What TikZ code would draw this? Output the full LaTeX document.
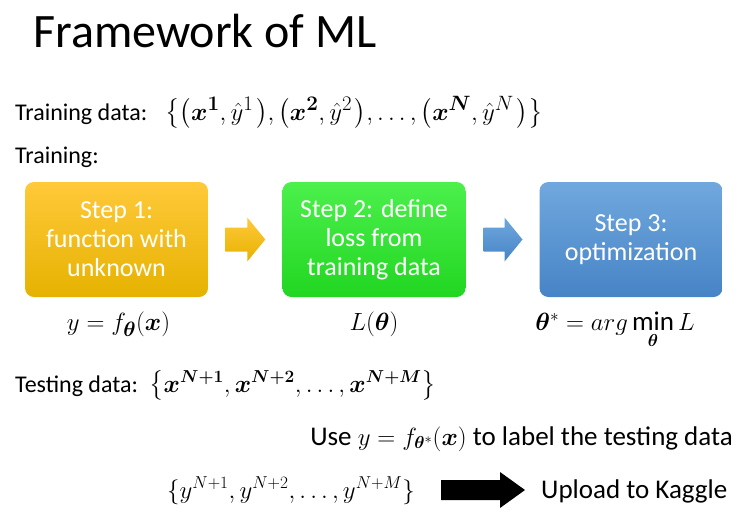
\documentclass[tikz,border=0pt]{standalone}
\usepackage{amsmath,bm}
\usepackage{fontspec}
\setmainfont{Carlito}
\usetikzlibrary{calc}
\definecolor{orangetop}{HTML}{FFC93A}
\definecolor{orangebot}{HTML}{E6B200}
\definecolor{greentop}{HTML}{4CF04C}
\definecolor{greenbot}{HTML}{22D622}
\definecolor{bluetop}{HTML}{70A8DE}
\definecolor{bluebot}{HTML}{4784C6}
\begin{document}
\begin{tikzpicture}[x=1pt,y=-1pt,
  stepbox/.style={rounded corners=9pt, minimum width=183pt, minimum height=115pt,
    text=white, align=center, font=\fontsize{26}{29}\selectfont, inner sep=0pt},
  plain/.style={font=\fontsize{24}{28}\selectfont, inner sep=0pt},
  plainb/.style={font=\fontsize{27}{31}\selectfont, inner sep=0pt},
  mathlbl/.style={font=\fontsize{29}{33}\selectfont, inner sep=0pt, anchor=base},
  title/.style={font=\fontsize{48}{54}\selectfont, inner sep=0pt}]
\useasboundingbox[fill=white] (0,0) rectangle (751,514);

\node[title, anchor=base west] (title) at (33,47) {Framework of ML};

\node[plain, anchor=base west] (trd) at (15,120) {Training data:};
\node[anchor=base west, inner sep=0pt, font=\fontsize{28}{32}\selectfont] (trset) at (165,120)
  {$\big\{\big(\bm{x}^{\bm{1}},\hat{y}^{1}\mkern2mu\big),\big(\bm{x}^{\bm{2}},\hat{y}^{2}\mkern2mu\big),\ldots,\big(\bm{x}^{\bm{N}},\hat{y}^{N}\mkern2mu\big)\big\}$};
\node[plain, anchor=base west] (tr) at (15,163) {Training:};

\node[stepbox, top color=orangetop, bottom color=orangebot] (s1) at (116.5,239.5) {Step 1:\\function with\\unknown};
\node[stepbox, top color=greentop, bottom color=greenbot] (s2) at (374,239.5) {Step 2: define\\loss from\\training data};
\node[stepbox, top color=bluetop, bottom color=bluebot] (s3) at (631,239.5) {Step 3:\\optimization};

\coordinate (a1) at ($(s1.east)!0.5!(s2.west)$);
\coordinate (a2) at ($(s2.east)!0.5!(s3.west)$);
\shade[top color=orangetop, bottom color=orangebot]
  ([shift={(-20,-12)}]a1) -- ++(22,0) -- ++(0,-10) -- ++(18,22) -- ++(-18,22) -- ++(0,-10) -- ++(-22,0) -- cycle;
\shade[top color=bluetop, bottom color=bluebot]
  ([shift={(-19,-12)}]a2) -- ++(21,0) -- ++(0,-10) -- ++(18,22) -- ++(-18,22) -- ++(0,-10) -- ++(-21,0) -- cycle;

\node[mathlbl] (f1) at ($(s1.south)+(2,33)$) {$y=f_{\bm{\theta}}(\bm{x})$};
\node[mathlbl] (f2) at ($(s2.south)+(0,33)$) {$L(\bm{\theta})$};
\node[mathlbl, font=\fontsize{27}{31}\selectfont] (f3) at ($(s3.south)+(-16,33)$) {$\bm{\theta}^{*}=arg\min\limits_{\bm{\theta}}L$};

\node[plain, anchor=base west] (ted) at (15,392) {Testing data:};
\node[anchor=base west, inner sep=0pt, font=\fontsize{25}{30}\selectfont] (teset) at (149,392)
  {$\big\{\bm{x}^{\bm{N+1}},\bm{x}^{\bm{N+2}},\ldots,\bm{x}^{\bm{N+M}}\big\}$};

\node[plainb, anchor=base east] (use) at (733,445) {Use $y=f_{\bm{\theta}^{*}}(\bm{x})$ to label the testing data};

\node[anchor=base west, inner sep=0pt, font=\fontsize{26.5}{31}\selectfont] (yset) at (167,498) {$\{y^{N+1},y^{N+2},\ldots,y^{N+M}\}$};
\node[plainb, anchor=base west] (up) at (541,498) {Upload to Kaggle};
\coordinate (b0) at (441,490);
\fill[black] ([shift={(0,-10)}]b0) -- ++(59,0) -- ++(0,-8) -- ++(25,18) -- ++(-25,18) -- ++(0,-8) -- ++(-59,0) -- cycle;
\end{tikzpicture}
\end{document}
